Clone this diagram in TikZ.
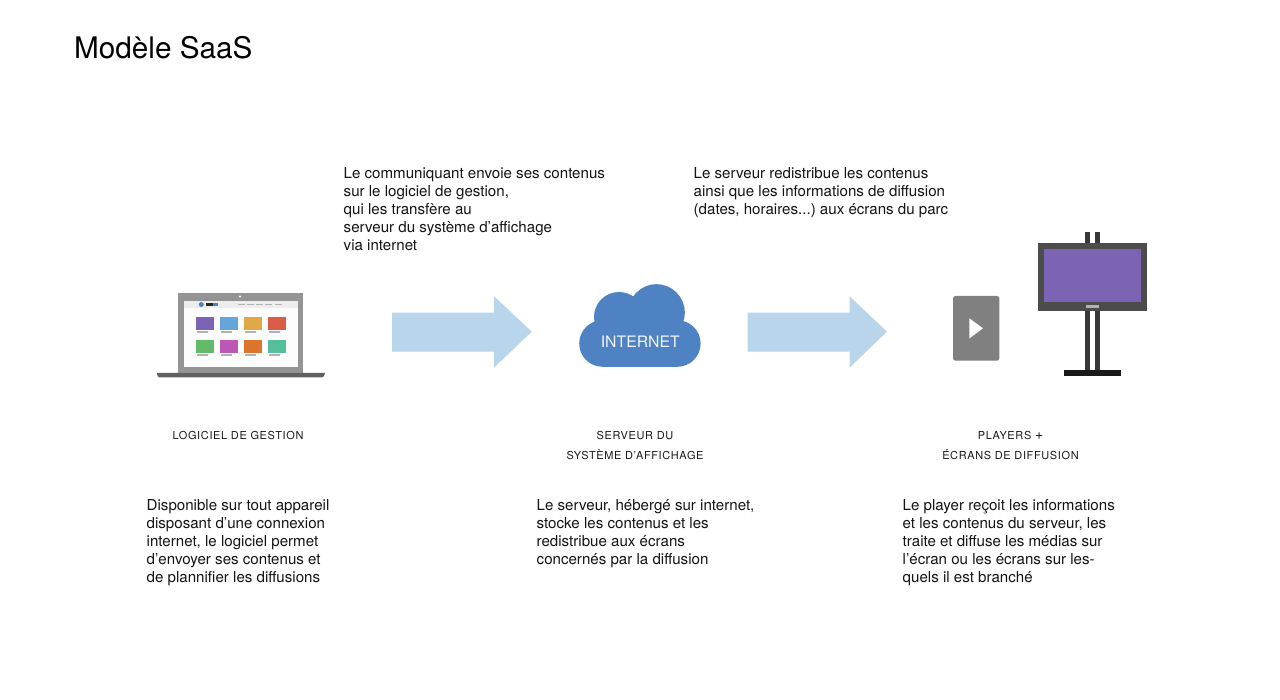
\documentclass[tikz,border=0pt]{standalone}
\usepackage{fontspec}
\setmainfont{TeX Gyre Heros}
\newfontfamily\lblfont[LetterSpace=6]{TeX Gyre Heros}
\frenchspacing
\begin{document}
\begin{tikzpicture}[x=1pt,y=-1pt,
  bodytext/.style={anchor=north west,align=left,inner sep=0pt,text=black!92,font=\fontsize{15.1}{18}\selectfont\frenchspacing},
  lbl/.style={anchor=center,align=center,inner sep=0pt,text=black!90,font=\lblfont\fontsize{10.95}{20}\selectfont},
  blockarrow/.style={fill=arrowblue,draw=none}]
\definecolor{arrowblue}{HTML}{B9D5EC}
\definecolor{cloudblue}{HTML}{4E82C2}
\useasboundingbox (0,0) rectangle (1280,700);
\fill[white] (0,0) rectangle (1280,700);
% title
\node[anchor=base west,inner sep=0pt,text=black,font=\fontsize{29.7}{34}\selectfont] (title) at (74,58.5) {Modèle SaaS};
% top texts
\node[bodytext] (t1) at (343.5,167.5) {Le communiquant envoie ses contenus\\sur le logiciel de gestion,\\qui les transfère au\\serveur du système d’affichage\\via internet};
\node[bodytext] (t2) at (693.5,167.5) {Le serveur redistribue les contenus\\ainsi que les informations de diffusion\\(dates, horaires...) aux écrans du parc};
% laptop
\fill[black!42] (177.7,293) rectangle (303,373);
\fill[black!1] (184,301) rectangle (298,367);
\fill[black!7] (184,301) rectangle (298,308);
\fill[white] (240,296.5) circle (1.2);
\fill[black!62] (156.7,373) -- (325,373) -- (324,376) -- (322,377.5) -- (159,377.5) -- (157.7,376) -- cycle;
\fill[cloudblue] (201.3,304.5) circle (2.5);
\fill[black!85] (206,303) rectangle (213,306);
\fill[cloudblue] (213,303) rectangle (218,306);
\foreach \x in {238,247,256,265,275} \fill[black!30] (\x,304.2) rectangle +(6.5,1.2);
\foreach \x/\c in {196/7B63B5,219.7/64A6DA,243.7/E0A848,267.7/DD5C48}{
  \definecolor{tc}{HTML}{\c}
  \fill[tc] (\x,316.7) rectangle +(18.3,13.3);
  \fill[black!30] (\x+1,331) rectangle +(11,2);
}
\foreach \x/\c in {196/63BA68,219.7/BC57B5,243.7/DC752B,267.7/55BE9A}{
  \definecolor{tc}{HTML}{\c}
  \fill[tc] (\x,340) rectangle +(18.3,13);
  \fill[black!30] (\x+1,354.3) rectangle +(11,2);
}
% arrows
\fill[blockarrow] (392,312.7) -- (494,312.7) -- (494,296.2) -- (531.7,331.7) -- (494,367.7) -- (494,351.7) -- (392,351.7) -- cycle;
\fill[blockarrow] (747.7,312.7) -- (849.5,312.7) -- (849.5,296.2) -- (887,331.7) -- (849.5,367.7) -- (849.5,351.7) -- (747.7,351.7) -- cycle;
% cloud
\fill[cloudblue] (602.5,343.5) circle (23.3);
\fill[cloudblue] (677.3,343.5) circle (23.3);
\fill[cloudblue] (619,317) circle (25);
\fill[cloudblue] (656.5,312.5) circle (28.3);
\fill[cloudblue] (602.5,325) rectangle (677.3,366.8);
\node[anchor=center,inner sep=0pt,text=white!92!cloudblue,font=\fontsize{15.8}{18}\selectfont] (inet) at (640.3,341.5) {INTERNET};
% player
\fill[black!50,rounded corners=2.5pt] (953,296) rectangle (999.3,360.7);
\fill[white] (969.3,318.3) -- (983,328.3) -- (969.3,338.5) -- cycle;
% screen
\fill[black!78] (1085,232) rectangle (1090,243.5);
\fill[black!78] (1095,232) rectangle (1099.7,243.5);
\fill[black!78] (1085,310) rectangle (1090,371);
\fill[black!78] (1095,310) rectangle (1099.7,371);
\fill[black!90] (1064.3,370.2) rectangle (1120.7,375.7);
\fill[black!70] (1038.3,243.3) rectangle (1146.7,310.7);
\definecolor{screenviolet}{HTML}{7B64B4}
\fill[screenviolet] (1044.3,249) rectangle (1141,302.3);
\fill[black!30] (1086,305) rectangle (1098.7,308);
% labels
\node[lbl] (l1) at (238,436) {LOGICIEL DE GESTION};
\node[lbl] (l2) at (635,446) {SERVEUR DU\\SYSTÈME D’AFFICHAGE};
\node[lbl] (l3) at (1010.5,446) {PLAYERS {\fontsize{14}{14}\selectfont +}\\ÉCRANS DE DIFFUSION};
% bottom texts
\node[bodytext] (b1) at (146.5,499) {Disponible sur tout appareil\\disposant d’une connexion\\internet, le logiciel permet\\d’envoyer ses contenus et\\de plannifier les diffusions};
\node[bodytext] (b2) at (536.5,499) {Le serveur, hébergé sur internet,\\stocke les contenus et les\\redistribue aux écrans\\concernés par la diffusion};
\node[bodytext] (b3) at (902.5,499) {Le player reçoit les informations\\et les contenus du serveur, les\\traite et diffuse les médias sur\\l’écran ou les écrans sur les-\\quels il est branché};
\end{tikzpicture}
\end{document}
